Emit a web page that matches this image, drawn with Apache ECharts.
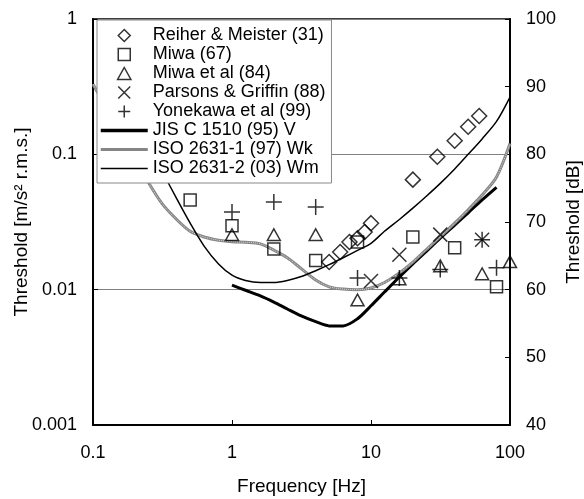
<!DOCTYPE html>
<html>
<head>
<meta charset="utf-8">
<script src="https://cdn.jsdelivr.net/npm/echarts@6/dist/echarts.min.js"></script>
<style>html,body{margin:0;padding:0;background:#fff;}#c{width:584px;height:499px;}</style>
</head>
<body>
<div id="c"></div>
<script>
// ---- data ----
var reiherF = [5, 6, 7, 8, 9, 10, 20, 30, 40, 50, 60];
var reiherA = [0.016, 0.019, 0.0225, 0.024, 0.0267, 0.031, 0.065, 0.096, 0.126, 0.160, 0.192];

var miwaF = [0.5, 1, 2, 4, 8, 20, 40, 80];
var miwaA = [0.046, 0.0297, 0.020, 0.0164, 0.0225, 0.0245, 0.0204, 0.0105];

var miwaEtAlF = [1, 2, 4, 8, 16, 31.5, 63, 100];
var miwaEtAlA = [0.0255, 0.0255, 0.0255, 0.0084, 0.012, 0.015, 0.0131, 0.0161];

var parsonsF = [10, 16, 31.5, 63];
var parsonsA = [0.0116, 0.0181, 0.0255, 0.0234];

var yonekawaF = [1, 2, 4, 8, 16, 31.5, 63, 80];
var yonekawaA = [0.0375, 0.0445, 0.0408, 0.0122, 0.0122, 0.0141, 0.0234, 0.0145];

var jisF = [1, 1.25, 1.6, 2, 2.5, 3.15, 4, 5, 6.3, 8, 10, 12.5, 16, 20, 25, 31.5, 40, 50, 63, 80];
var jisA = [0.0108, 0.0099, 0.0090, 0.0081, 0.0072, 0.0064, 0.0058, 0.0054, 0.0054, 0.0061, 0.0076, 0.0096, 0.0124, 0.0155, 0.0192, 0.0240, 0.030, 0.037, 0.046, 0.057];

var wkF = [0.1, 0.125, 0.16, 0.2, 0.25, 0.315, 0.4, 0.5, 0.63, 0.8, 1, 1.25, 1.6, 2, 2.5, 3.15, 4, 5, 6.3, 8, 10, 12.5, 16, 20, 25, 31.5, 40, 50, 63, 80, 100];
var wkA = [0.33, 0.22, 0.14, 0.093, 0.062, 0.043, 0.033, 0.027, 0.0245, 0.0232, 0.0226, 0.0224, 0.0218, 0.0196, 0.0172, 0.0143, 0.0118, 0.0105, 0.0101, 0.0100, 0.0103, 0.0113, 0.0133, 0.016, 0.0198, 0.0246, 0.031, 0.039, 0.05, 0.068, 0.12];

var wmF = [0.2, 0.25, 0.315, 0.4, 0.5, 0.63, 0.8, 1, 1.25, 1.6, 2, 2.5, 3.15, 4, 5, 6.3, 8, 10, 12.5, 16, 20, 25, 31.5, 40, 50, 63, 80, 100];
var wmA = [0.2, 0.12, 0.075, 0.047, 0.031, 0.021, 0.0155, 0.0128, 0.0117, 0.0113, 0.0113, 0.0117, 0.0125, 0.0138, 0.0153, 0.0172, 0.0195, 0.022, 0.027, 0.033, 0.04, 0.049, 0.061, 0.078, 0.1, 0.13, 0.175, 0.265];

var names = ['Reiher & Meister (31)', 'Miwa (67)', 'Miwa et al (84)', 'Parsons & Griffin (88)', 'Yonekawa et al (99)',
             'JIS C 1510 (95) V', 'ISO 2631-1 (97) Wk', 'ISO 2631-2 (03) Wm'];
var xTicks = [0.1, 1, 10, 100];
var dbRange = [40, 100];

function pairs(f, a) { return f.map(function (v, i) { return [v, a[i]]; }); }

var FONT = "'Liberation Sans', Arial, sans-serif";
var plusPath = 'path://M0,5L10,5M5,0L5,10';
var crossPath = 'path://M0,0L10,10M10,0L0,10';
var diamondPath = 'path://M5,0L10,5L5,10L0,5Z';
var squarePath = 'path://M0,0L10,0L10,10L0,10Z';
var trianglePath = 'path://M5,0L10,9L0,9Z';

function scatter(name, f, a, symbol, size) {
  return {
    name: name, type: 'scatter', data: pairs(f, a), symbol: symbol, symbolSize: size,
    symbolKeepAspect: true, clip: false, z: 3,
    itemStyle: { color: 'none', borderColor: '#000', borderWidth: 1.5 }
  };
}
function line(name, f, a, color, width, type) {
  return {
    name: name, type: 'line', data: pairs(f, a), symbol: 'none', smooth: 0.3, z: 2,
    lineStyle: { color: color, width: width, type: type || 'solid' },
    itemStyle: { color: 'rgba(0,0,0,0)', borderColor: 'rgba(0,0,0,0)', borderWidth: 0 }
  };
}

var legendLineStyles = [
  { color: '#000', width: 3.5 },
  { color: '#858585', width: 3 },
  { color: '#000', width: 1.5 }
];
var legendData = names.map(function (n, i) {
  if (i >= 5) return { name: n, itemStyle: { opacity: 0 }, lineStyle: legendLineStyles[i - 5] };
  return { name: n, itemStyle: { color: 'none', borderColor: '#000', borderWidth: 1.5 } };
});

var chart = echarts.init(document.getElementById('c'), null, { renderer: 'canvas' });
chart.setOption({
  animation: false,
  backgroundColor: '#fff',
  grid: { left: 93, right: 74, top: 19, bottom: 74, outerBoundsMode: 'none', containLabel: false,
          show: true, borderColor: '#000', borderWidth: 1.5, backgroundColor: 'transparent' },
  xAxis: {
    type: 'log', logBase: 10, min: xTicks[0], max: xTicks[xTicks.length - 1],
    name: 'Frequency [Hz]', nameLocation: 'middle', nameGap: 52, nameMoveOverlap: false,
    nameTextStyle: { fontFamily: FONT, fontSize: 19, color: '#000' },
    axisLine: { lineStyle: { color: '#000', width: 2 } },
    axisTick: { inside: true, length: 5, lineStyle: { color: '#000' } },
    axisLabel: { fontFamily: FONT, fontSize: 18, color: '#000', margin: 19 },
    splitLine: { show: false }
  },
  yAxis: [{
    type: 'log', logBase: 10, min: 0.001, max: 1,
    name: 'Threshold [m/s\u00B2 r.m.s.]', nameLocation: 'middle', nameGap: 62, nameRotate: 90,
    nameMoveOverlap: false,
    nameTextStyle: { fontFamily: FONT, fontSize: 19, color: '#000' },
    axisLine: { show: true, lineStyle: { color: '#000', width: 2 } },
    axisTick: { show: true, inside: true, length: 5, lineStyle: { color: '#000' } },
    axisLabel: { fontFamily: FONT, fontSize: 18, color: '#000', margin: 16 },
    splitLine: { show: true, lineStyle: { color: '#808080', width: 1 } }
  }, {
    type: 'value', min: dbRange[0], max: dbRange[1], interval: 10, position: 'right',
    name: 'Threshold [dB]', nameLocation: 'middle', nameGap: 54, nameRotate: 90,
    nameMoveOverlap: false,
    nameTextStyle: { fontFamily: FONT, fontSize: 19, color: '#000' },
    axisLine: { show: true, lineStyle: { color: '#000', width: 2 } },
    axisTick: { show: true, inside: true, length: 5, lineStyle: { color: '#000' } },
    axisLabel: { fontFamily: FONT, fontSize: 18, color: '#000', margin: 16 },
    splitLine: { show: false }
  }],
  legend: {
    orient: 'vertical', left: 97, top: 20,
    padding: [6, 6, 5, 2], itemGap: 0, itemWidth: 47, itemHeight: 12,
    symbolKeepAspect: true,
    backgroundColor: '#fff', borderColor: '#888', borderWidth: 1,
    textStyle: { fontFamily: FONT, fontSize: 18, color: '#000', lineHeight: 19 },
    data: legendData
  },
  series: [
    line(names[5], jisF, jisA, '#000', 3),
    line(names[6], wkF, wkA, '#858585', 3),
    Object.assign(line('wk-core', wkF, wkA, '#d8d8d8', 1, 'dotted'), { silent: true }),
    line(names[7], wmF, wmA, '#000', 1.5),
    scatter(names[0], reiherF, reiherA, diamondPath, 15),
    scatter(names[1], miwaF, miwaA, squarePath, 12),
    scatter(names[2], miwaEtAlF, miwaEtAlA, trianglePath, 13),
    scatter(names[3], parsonsF, parsonsA, crossPath, 14),
    scatter(names[4], yonekawaF, yonekawaA, plusPath, 16)
  ]
});
</script>
</body>
</html>
